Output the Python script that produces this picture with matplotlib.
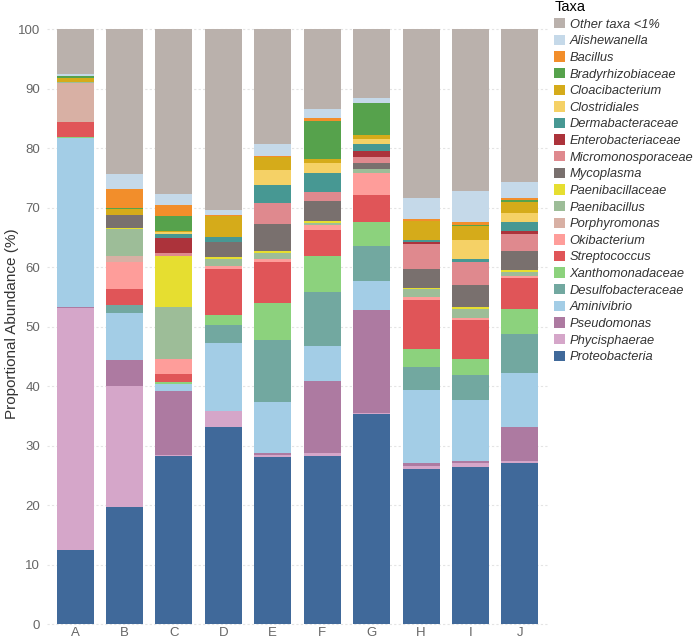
import numpy as np
import matplotlib
matplotlib.use('Agg')
import matplotlib.pyplot as plt

plt.rcParams['font.family'] = ['Liberation Sans', 'DejaVu Sans']

samples = ['A', 'B', 'C', 'D', 'E', 'F', 'G', 'H', 'I', 'J']

# relative abundance (%) per taxon, samples A..J
proteobacteria = [12.6, 19.8, 28.3, 33.2, 28.2, 28.3, 35.3, 26.1, 26.5, 27.1]
phycisphaerae = [40.6, 20.2, 0.2, 2.7, 0.3, 0.5, 0.3, 0.6, 0.7, 0.4]
pseudomonas = [0.2, 4.5, 10.7, 0.0, 0.3, 12.1, 17.3, 0.4, 0.2, 5.7]
aminivibrio = [28.3, 7.8, 1.3, 11.4, 8.6, 5.9, 4.8, 12.3, 10.3, 9.0]
desulfobacteraceae = [0.0, 1.4, 0.0, 3.0, 10.4, 9.0, 5.9, 3.8, 4.2, 6.7]
xanthomonadaceae = [0.2, 0.0, 0.3, 1.7, 6.3, 6.2, 4.1, 3.1, 2.7, 4.2]
streptococcus = [2.5, 2.7, 1.3, 7.7, 6.9, 4.3, 4.4, 8.2, 6.5, 5.1]
okibacterium = [0.0, 4.5, 2.5, 0.6, 0.5, 0.8, 3.7, 0.6, 0.4, 0.4]
porphyromonas = [6.6, 1.1, 0.0, 0.0, 0.0, 0.0, 0.0, 0.0, 0.0, 0.0]
paenibacillus = [0.2, 4.4, 8.8, 1.1, 1.0, 0.3, 0.8, 1.2, 1.6, 0.7]
paenibacillaceae = [0.0, 0.3, 8.6, 0.3, 0.2, 0.4, 0.0, 0.2, 0.2, 0.3]
mycoplasma = [0.0, 2.2, 0.0, 2.5, 4.6, 3.4, 1.0, 3.2, 3.8, 3.1]
micromonosporaceae = [0.0, 0.0, 0.5, 0.0, 3.5, 1.5, 0.9, 4.3, 3.9, 2.9]
enterobacteriaceae = [0.0, 0.0, 2.4, 0.0, 0.0, 0.0, 1.0, 0.2, 0.0, 0.5]
dermabacteraceae = [0.0, 0.0, 0.8, 1.0, 3.1, 3.1, 1.2, 0.5, 0.4, 1.6]
clostridiales = [0.0, 0.0, 0.2, 0.0, 2.4, 1.7, 0.9, 0.0, 3.2, 1.4]
cloacibacterium = [0.7, 0.9, 0.2, 3.4, 2.2, 0.7, 0.6, 3.1, 2.3, 1.9]
bradyrhizobiaceae = [0.2, 0.2, 2.6, 0.0, 0.0, 6.4, 5.4, 0.0, 0.2, 0.3]
bacillus = [0.0, 3.2, 1.8, 0.2, 0.3, 0.6, 0.0, 0.3, 0.6, 0.4]
alishewanella = [0.4, 2.5, 1.9, 0.8, 1.9, 1.4, 0.8, 3.6, 5.2, 2.6]
other = [7.5, 24.3, 27.6, 30.4, 19.3, 13.4, 11.6, 28.3, 27.1, 25.7]

# bottom-to-top stacking order
taxa = [
    ('Proteobacteria', proteobacteria, '#40699a'),
    ('Phycisphaerae', phycisphaerae, '#d5a6c9'),
    ('Pseudomonas', pseudomonas, '#ad7aa1'),
    ('Aminivibrio', aminivibrio, '#a3cde6'),
    ('Desulfobacteraceae', desulfobacteraceae, '#72a8a0'),
    ('Xanthomonadaceae', xanthomonadaceae, '#8cd27d'),
    ('Streptococcus', streptococcus, '#e05558'),
    ('Okibacterium', okibacterium, '#fe9d9a'),
    ('Porphyromonas', porphyromonas, '#d8b0a4'),
    ('Paenibacillus', paenibacillus, '#9dbd98'),
    ('Paenibacillaceae', paenibacillaceae, '#e6de30'),
    ('Mycoplasma', mycoplasma, '#79706e'),
    ('Micromonosporaceae', micromonosporaceae, '#df898e'),
    ('Enterobacteriaceae', enterobacteriaceae, '#ac333b'),
    ('Dermabacteraceae', dermabacteraceae, '#479893'),
    ('Clostridiales', clostridiales, '#f5d166'),
    ('Cloacibacterium', cloacibacterium, '#d5ab1a'),
    ('Bradyrhizobiaceae', bradyrhizobiaceae, '#56a24c'),
    ('Bacillus', bacillus, '#f28e2b'),
    ('Alishewanella', alishewanella, '#c5d9e9'),
    ('Other taxa <1%', other, '#bab1ac'),
]

fig = plt.figure(figsize=(7, 6.42), dpi=100)
ax = fig.add_axes([0.067, 0.0245, 0.716, 0.9435])

x = np.arange(len(samples))
bottom = np.zeros(len(samples))
handles = []
for name, vals, col in taxa:
    b = ax.bar(x, vals, 0.75, bottom=bottom, color=col, linewidth=0, label=name, zorder=2)
    handles.append(b)
    bottom += np.array(vals)

ax.set_xlim(-0.57, 9.57)
ax.set_ylim(-0.3, 101.5)
ax.set_yticks(range(0, 101, 10))
ax.set_xticks(x)
ax.set_xticklabels(samples)
ax.tick_params(axis='both', length=0, colors='#666666', labelsize=9.5)
ax.tick_params(axis='y', pad=5)
ax.tick_params(axis='x', pad=0.5)
for s in ax.spines.values():
    s.set_visible(False)
ax.yaxis.grid(True, color='#e4e4e4', linestyle=(0, (2, 2)), linewidth=0.8, zorder=0)
ax.set_axisbelow(True)
ax.set_ylabel('Proportional Abundance (%)', fontsize=11, color='#333333')
ax.yaxis.set_label_coords(-0.055, 0.5)

leg = fig.legend(handles[::-1], [t[0] for t in taxa][::-1], loc='upper left',
                 bbox_to_anchor=(0.777, 1.016), frameon=False, title='Taxa',
                 alignment='left', prop={'style': 'italic', 'size': 9.3},
                 title_fontsize=10.5, handlelength=0.85, handleheight=0.85,
                 handletextpad=0.35, labelspacing=0.31, borderpad=0.3)
for t in leg.get_texts():
    t.set_color('#333333')

fig.savefig('out.png', dpi=100)
